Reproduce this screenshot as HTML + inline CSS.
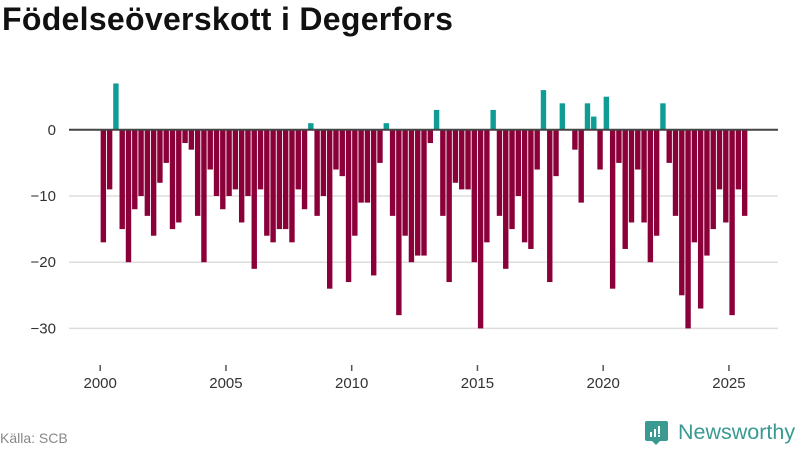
<!DOCTYPE html>
<html><head><meta charset="utf-8"><style>
body{margin:0;width:800px;height:450px;background:#fff;font-family:"Liberation Sans",sans-serif;overflow:hidden;position:relative}
#title{position:absolute;left:2px;top:1px;font-size:32px;font-weight:bold;color:#111;letter-spacing:0.3px}
#src{position:absolute;left:0;top:430px;font-size:14px;color:#888}
#logo{position:absolute;left:645px;top:420px;display:flex;align-items:center}
#logo span{font-size:21.5px;color:#3a9a92;margin-left:10px}
</style></head><body>
<div id="title">Födelseöverskott i Degerfors</div>
<svg id="chart" width="800" height="450" style="position:absolute;left:0;top:0"></svg>
<div id="src">Källa: SCB</div>
<div id="logo">
<svg width="23" height="24" viewBox="0 0 23 24"><path d="M2 0h19a2 2 0 0 1 2 2v16a2 2 0 0 1-2 2h-6l-4 4-4-4H2a2 2 0 0 1-2-2V2a2 2 0 0 1 2-2z" fill="#3a9a92"/><rect x="5" y="11" width="2" height="5" fill="#fff"/><rect x="9" y="8" width="2" height="8" fill="#fff"/><rect x="13" y="5" width="2" height="8" fill="#fff"/><rect x="13" y="14" width="2" height="2" fill="#fff"/></svg>
<span>Newsworthy</span></div>
<script>
const values=[-17,-9,7,-15,-20,-12,-10,-13,-16,-8,-5,-15,-14,-2,-3,-13,-20,-6,-10,-12,-10,-9,-14,-10,-21,-9,-16,-17,-15,-15,-17,-9,-12,1,-13,
-10,-24,-6,-7,-23,-16,-11,-11,-22,-5,1,-13,-28,-16,-20,-19,-19,-2,3,-13,-23,-8,-9,-9,-20,-30,-17,3,-13,-21,-15,-10,-17,-18,-6,
6,-23,-7,4,0,-3,-11,4,2,-6,5,-24,-5,-18,-14,-6,-14,-20,-16,4,-5,-13,-25,-30,-17,-27,-19,-15,-9,-14,-28,-9,-13];
const startYear=2000;
const yTicks=[0,-10,-20,-30];
const xTicks=[2000,2005,2010,2015,2020,2025];
const NS="http://www.w3.org/2000/svg";
const svg=document.getElementById('chart');
const x=yr=>100.2+(yr-2000)*25.15;
const y=v=>129.8-v*6.62;
function mk(t,a){const e=document.createElementNS(NS,t);for(const k in a)e.setAttribute(k,a[k]);svg.appendChild(e);return e;}
yTicks.forEach(t=>{
  if(t!==0){const g=mk('line',{x1:69,x2:778,y1:y(t),y2:y(t),stroke:'#ddd','stroke-width':1.5});
  
  }
  const l=mk('text',{x:56,y:y(t)+5,'text-anchor':'end','font-size':15,fill:'#333','font-family':'Liberation Sans, sans-serif'});
  l.textContent=t===0?'0':'\u2212'+Math.abs(t);
  
  
});
values.forEach((v,i)=>{
  const cx=x(startYear+(i+0.5)/4);
  const r=mk('rect',{x:cx-2.7,width:5.4,y:Math.min(y(v),y(0)),height:Math.abs(y(v)-y(0)),fill:v>=0?'#0e9c94':'#8c0039'});
  
  
});
const z=mk('line',{x1:69,x2:778,y1:y(0),y2:y(0),stroke:'#444','stroke-width':2});


xTicks.forEach(t=>{
  const tk=mk('line',{x1:x(t),x2:x(t),y1:365,y2:371,stroke:'#555','stroke-width':1.5});
  
  
  const l=mk('text',{x:x(t),y:388,'text-anchor':'middle','font-size':15,fill:'#333','font-family':'Liberation Sans, sans-serif'});
  l.textContent=t;
  
  
});
</script>
</body></html>
